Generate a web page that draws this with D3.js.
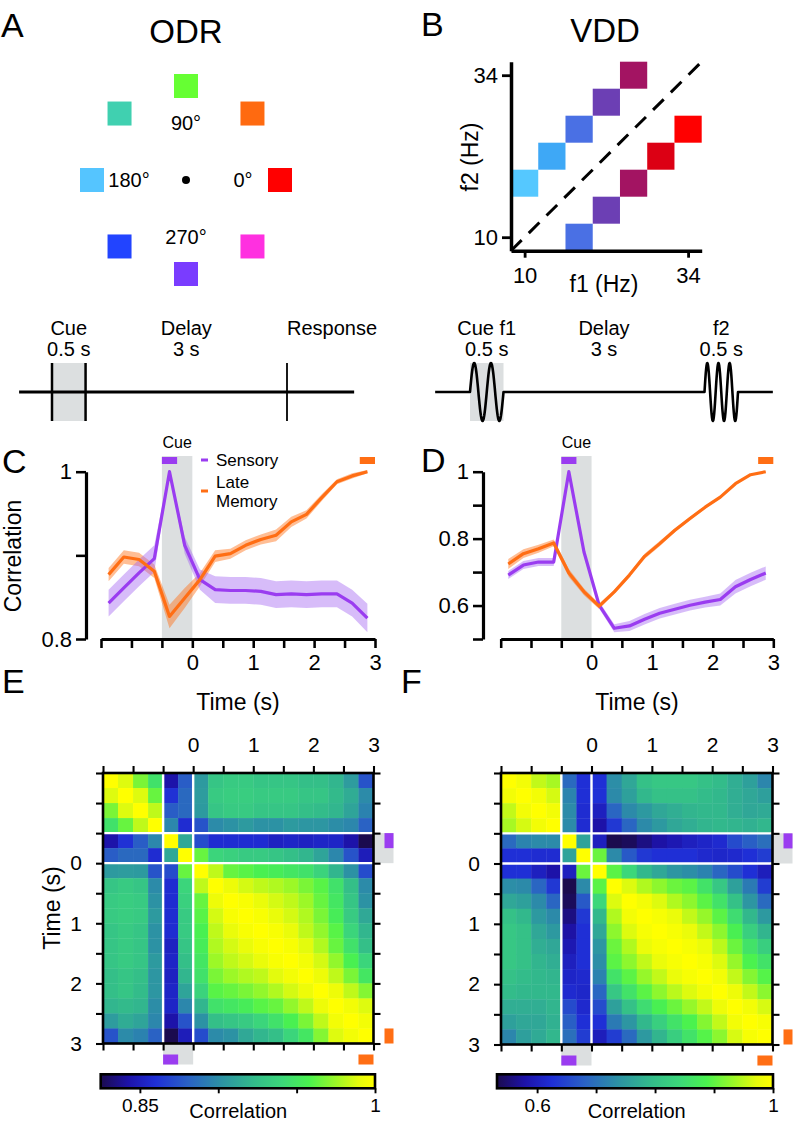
<!DOCTYPE html>
<html>
<head>
<meta charset="utf-8">
<script src="https://cdnjs.cloudflare.com/ajax/libs/d3/7.8.5/d3.min.js"></script>
<style>
  body { margin: 0; background: #fff; }
  svg text { font-family: "Liberation Sans", Arial, Helvetica, sans-serif; fill: #000; }
</style>
</head>
<body>
<div id="fig"></div>
<script>
// ---------------- data ----------------
// panel A : ODR cue locations
const odrAngles = [0, 45, 90, 135, 180, 225, 270, 315];
const odrColors = ["#ff0000", "#ff6a10", "#66ff33", "#40d0b0", "#55c5ff", "#2244ff", "#7a3cff", "#ff30e0"];
const odrLabelAngles = [0, 90, 180, 270];

// panel B : VDD stimulus pairs
const vddF1 = [10, 14, 18, 22, 26, 18, 22, 26, 30, 34];
const vddF2 = [18, 22, 26, 30, 34, 10, 14, 18, 22, 26];
const vddF1Levels = [10, 14, 18, 22, 26, 30, 34];
const vddF1Colors = ["#55c8ff", "#3ea8f6", "#4a70e4", "#6c3fb4", "#a31462", "#dc0014", "#ff0000"];

// time bins (s), bin width 0.25 s
const timeBins = [-1.375, -1.125, -0.875, -0.625, -0.375, -0.125, 0.125, 0.375, 0.625,
                  0.875, 1.125, 1.375, 1.625, 1.875, 2.125, 2.375, 2.625, 2.875];
const timeTicks = [-1.5, -1, -0.5, 0, 0.5, 1, 1.5, 2, 2.5, 3];

// panel C : ODR correlation with sensory / late memory templates
const odrSensory    = [0.843, 0.861, 0.879, 0.896, 1.000, 0.912, 0.871, 0.859, 0.858, 0.858, 0.857, 0.853, 0.854, 0.853, 0.854, 0.854, 0.843, 0.825];
const odrSensoryErr = [0.016, 0.016, 0.016, 0.016, 0.002, 0.010, 0.012, 0.016, 0.016, 0.016, 0.016, 0.016, 0.016, 0.016, 0.016, 0.016, 0.016, 0.017];
const odrMemory     = [0.877, 0.898, 0.895, 0.881, 0.827, 0.849, 0.871, 0.899, 0.902, 0.912, 0.919, 0.924, 0.940, 0.949, 0.969, 0.988, 0.995, 1.000];
const odrMemoryErr  = [0.008, 0.008, 0.008, 0.008, 0.014, 0.012, 0.008, 0.007, 0.006, 0.006, 0.006, 0.007, 0.006, 0.005, 0.004, 0.003, 0.003, 0.002];

// panel D : VDD
const vddSensory    = [0.691, 0.721, 0.730, 0.730, 1.000, 0.760, 0.601, 0.532, 0.539, 0.559, 0.577, 0.589, 0.601, 0.610, 0.618, 0.656, 0.678, 0.697];
const vddSensoryErr = [0.012, 0.012, 0.012, 0.012, 0.002, 0.008, 0.010, 0.012, 0.015, 0.016, 0.016, 0.016, 0.016, 0.016, 0.018, 0.020, 0.020, 0.020];
const vddMemory     = [0.724, 0.755, 0.770, 0.787, 0.697, 0.641, 0.598, 0.641, 0.691, 0.747, 0.785, 0.825, 0.860, 0.894, 0.924, 0.964, 0.991, 1.000];
const vddMemoryErr  = [0.015, 0.013, 0.012, 0.010, 0.012, 0.010, 0.008, 0.006, 0.006, 0.008, 0.008, 0.006, 0.005, 0.004, 0.004, 0.003, 0.002, 0.001];

// panel E : ODR cross-temporal correlation matrix
const odrMatrix = [
  [1.000, .988, .968, .947, .843, .879, .906, .929, .932, .932, .929, .929, .929, .925, .925, .920, .907, .875],
  [.988, 1.000, .988, .964, .861, .884, .907, .932, .934, .934, .932, .932, .932, .929, .929, .922, .915, .899],
  [.968, .988, 1.000, .982, .879, .884, .906, .929, .932, .932, .929, .929, .929, .925, .923, .920, .911, .895],
  [.947, .964, .982, 1.000, .897, .858, .875, .899, .902, .906, .902, .902, .906, .904, .904, .900, .897, .881],
  [.843, .861, .879, .897, 1.000, .913, .872, .858, .858, .858, .858, .852, .854, .852, .854, .854, .843, .825],
  [.879, .884, .884, .858, .913, 1.000, .964, .939, .936, .932, .932, .929, .925, .920, .911, .897, .875, .849],
  [.906, .907, .906, .875, .872, .964, 1.000, .982, .964, .961, .957, .954, .950, .947, .938, .920, .902, .872],
  [.929, .932, .929, .899, .858, .939, .982, 1.000, .993, .986, .982, .979, .975, .968, .961, .947, .925, .899],
  [.932, .934, .932, .902, .858, .936, .964, .993, 1.000, .997, .991, .986, .982, .975, .964, .950, .929, .902],
  [.932, .934, .932, .906, .858, .932, .961, .986, .997, 1.000, .997, .991, .986, .979, .968, .954, .932, .913],
  [.929, .932, .929, .902, .858, .932, .957, .982, .991, .997, 1.000, .997, .991, .982, .973, .961, .939, .920],
  [.929, .932, .929, .902, .852, .929, .954, .979, .986, .991, .997, 1.000, .997, .989, .979, .964, .947, .925],
  [.929, .932, .929, .906, .854, .925, .950, .975, .982, .986, .991, .997, 1.000, .995, .986, .973, .957, .939],
  [.925, .929, .925, .904, .852, .920, .947, .968, .975, .979, .982, .989, .995, 1.000, .993, .982, .968, .950],
  [.925, .929, .923, .904, .854, .911, .938, .961, .964, .968, .973, .979, .986, .993, 1.000, .993, .982, .970],
  [.920, .922, .920, .900, .854, .897, .920, .947, .950, .954, .961, .964, .973, .982, .993, 1.000, .995, .988],
  [.907, .915, .911, .897, .843, .875, .902, .925, .929, .932, .939, .947, .957, .968, .982, .995, 1.000, .995],
  [.875, .899, .895, .881, .825, .849, .872, .899, .902, .913, .920, .925, .939, .950, .970, .988, .995, 1.000]
];

// panel F : VDD cross-temporal correlation matrix
const vddMatrix = [
  [1.000, .986, .953, .939, .691, .626, .626, .733, .766, .803, .813, .813, .813, .803, .794, .775, .757, .724],
  [.986, 1.000, .986, .963, .721, .626, .626, .729, .757, .789, .803, .803, .803, .794, .789, .775, .766, .755],
  [.953, .986, 1.000, .986, .730, .621, .602, .686, .729, .747, .766, .775, .785, .789, .789, .775, .766, .770],
  [.939, .963, .986, 1.000, .730, .621, .579, .635, .686, .729, .747, .766, .775, .785, .789, .785, .780, .787],
  [.691, .721, .730, .730, 1.000, .760, .601, .532, .539, .559, .577, .589, .601, .610, .618, .656, .678, .697],
  [.626, .626, .621, .621, .760, 1.000, .906, .729, .672, .635, .626, .626, .626, .616, .612, .616, .626, .641],
  [.626, .626, .602, .579, .601, .906, 1.000, .897, .841, .789, .766, .743, .733, .719, .686, .658, .626, .598],
  [.733, .729, .686, .635, .532, .729, .897, 1.000, .967, .944, .925, .906, .897, .860, .813, .757, .710, .641],
  [.766, .757, .729, .686, .539, .672, .841, .967, 1.000, .986, .967, .944, .925, .897, .860, .803, .743, .691],
  [.803, .789, .747, .729, .559, .635, .789, .944, .986, 1.000, .991, .977, .953, .930, .897, .850, .789, .747],
  [.813, .803, .766, .747, .577, .626, .766, .925, .967, .991, 1.000, .991, .977, .953, .925, .883, .827, .785],
  [.813, .803, .775, .766, .589, .626, .743, .906, .944, .977, .991, 1.000, .991, .977, .949, .906, .860, .825],
  [.813, .803, .785, .775, .601, .626, .733, .897, .925, .953, .977, .991, 1.000, .991, .967, .930, .888, .860],
  [.803, .794, .789, .785, .610, .616, .719, .860, .897, .930, .953, .977, .991, 1.000, .986, .953, .920, .894],
  [.794, .789, .789, .789, .618, .612, .686, .813, .860, .897, .925, .949, .967, .986, 1.000, .981, .953, .924],
  [.775, .775, .775, .785, .656, .616, .658, .757, .803, .850, .883, .906, .930, .953, .981, 1.000, .986, .964],
  [.757, .766, .766, .780, .678, .626, .626, .710, .743, .789, .827, .860, .888, .920, .953, .986, 1.000, .991],
  [.724, .755, .770, .787, .697, .641, .598, .641, .691, .747, .785, .825, .860, .894, .924, .964, .991, 1.000]
];
const odrBarTicks = [0.85, 0.9, 0.95, 1];
const vddBarTicks = [0.6, 0.7, 0.8, 0.9, 1];

// ---------------- style ----------------
const cmapStops  = [0, 0.1, 0.2, 0.32, 0.44, 0.56, 0.66, 0.76, 0.86, 0.94, 1];
const cmapColors = ["#1b0b4e", "#1d12a8", "#1f2fd6", "#2a62c4", "#2c92a4", "#33bc8a",
                    "#3cd77a", "#4af24e", "#9ef826", "#e6fb0c", "#ffff00"];
const purple = "#9a3cf0", orange = "#ff6e14", cueGray = "#dcdfe0";
const cmap = d3.scaleLinear().domain(cmapStops).range(cmapColors).interpolate(d3.interpolateRgb);

const svg = d3.select("#fig").append("svg").attr("width", 793).attr("height", 1121);

function label(g, x, y, s, size, anchor, rot) {
    const t = g.append("text").attr("x", x).attr("y", y).attr("font-size", size)
        .attr("text-anchor", anchor || "start").text(s);
    if (rot) t.attr("transform", `rotate(${rot},${x},${y})`);
    return t;
}

function styleAxis(sel, w) {
    sel.select(".domain").attr("stroke-width", w).attr("stroke", "#000");
    sel.selectAll(".tick line").attr("stroke-width", w * 0.8).attr("stroke", "#000");
    sel.selectAll(".tick text").attr("fill", "#000");
    sel.attr("font-family", null);
}

// panel letters
[["A", 1, 37], ["B", 421, 36], ["C", 2, 473], ["D", 421, 472], ["E", 2, 693], ["F", 401, 693]]
    .forEach(([s, x, y]) => label(svg, x, y, s, 34));

// ---------------- panel A ----------------
const gA = svg.append("g");
label(gA, 186, 43, "ODR", 33, "middle");
const cA = {x: 186, y: 180}, rSq = 94, rLab = 57, sq = 24;
gA.selectAll(".odrSq").data(odrAngles).join("rect")
    .attr("x", a => cA.x + rSq * Math.cos(a * Math.PI / 180) - sq / 2)
    .attr("y", a => cA.y - rSq * Math.sin(a * Math.PI / 180) - sq / 2)
    .attr("width", sq).attr("height", sq)
    .attr("fill", (a, i) => odrColors[i]);
gA.append("circle").attr("cx", cA.x).attr("cy", cA.y).attr("r", 4);
gA.selectAll(".odrLab").data(odrLabelAngles).join("text")
    .attr("x", a => cA.x + rLab * Math.cos(a * Math.PI / 180))
    .attr("y", a => cA.y - rLab * Math.sin(a * Math.PI / 180))
    .attr("dy", "0.36em").attr("text-anchor", "middle").attr("font-size", 20)
    .text(a => a + "°");

// ---------------- panel B ----------------
const gB = svg.append("g");
label(gB, 605, 42, "VDD", 33, "middle");
const xB = d3.scaleLinear().domain([8, 36]).range([511, 701.7]);
const yB = d3.scaleLinear().domain([8, 36]).range([250.7, 61.7]);
const f1Color = d3.scaleOrdinal().domain(vddF1Levels).range(vddF1Colors);
gB.selectAll(".vddSq").data(vddF1).join("rect")
    .attr("x", d => xB(d - 2)).attr("width", xB(12) - xB(8))
    .attr("y", (d, i) => yB(vddF2[i] + 2)).attr("height", yB(8) - yB(12))
    .attr("fill", d => f1Color(d));
gB.append("line")
    .attr("x1", xB(8)).attr("y1", yB(8)).attr("x2", xB(36)).attr("y2", yB(36))
    .attr("stroke", "#000").attr("stroke-width", 3).attr("stroke-dasharray", "15,10");
const axBy = gB.append("g").attr("transform", "translate(511,0)")
    .call(d3.axisLeft(yB).tickValues([10, 34]).tickSize(9).tickSizeOuter(0).tickPadding(4))
    .attr("font-size", 22);
styleAxis(axBy, 3.5);
const axBx = gB.append("g").attr("transform", "translate(0,250.7)")
    .call(d3.axisBottom(xB).tickValues([10, 34]).tickSize(7).tickSizeOuter(0).tickPadding(10))
    .attr("font-size", 22);
styleAxis(axBx, 3.5);
label(gB, 604, 292, "f1 (Hz)", 23, "middle");
label(gB, 478, 157, "f2 (Hz)", 23, "middle", -90);

// ---------------- task timelines ----------------
function timeline(g, xStart, xEnd) {
    g.append("line").attr("x1", xStart).attr("x2", xEnd).attr("y1", 392).attr("y2", 392)
        .attr("stroke", "#000").attr("stroke-width", 3);
}
const tlA = svg.append("g");
const tA = d3.scaleLinear().domain([0, 3.5]).range([52, 287]);
tlA.append("rect").attr("x", tA(0)).attr("width", tA(0.5) - tA(0)).attr("y", 363).attr("height", 58).attr("fill", cueGray);
timeline(tlA, tA(-0.49), tA(4.5));
[[0, 2.5], [0.5, 2.5], [3.5, 1.8]].forEach(([s, w]) =>
    tlA.append("line").attr("x1", tA(s)).attr("x2", tA(s)).attr("y1", 363).attr("y2", 421)
        .attr("stroke", "#000").attr("stroke-width", w));
label(tlA, tA(0.25), 335, "Cue", 20, "middle");
label(tlA, tA(0.25), 356, "0.5 s", 20, "middle");
label(tlA, tA(2), 335, "Delay", 20, "middle");
label(tlA, tA(2), 356, "3 s", 20, "middle");
label(tlA, tA(3.5), 335, "Response", 20, "start");

const tlB = svg.append("g");
const tB = d3.scaleLinear().domain([0, 3.5]).range([470, 704.5]);
tlB.append("rect").attr("x", tB(0)).attr("width", tB(0.5) - tB(0)).attr("y", 363).attr("height", 58).attr("fill", cueGray);
// flat line with the two vibration bursts
function burst(x0, x1, cycles) {
    const n = 80;
    return d3.range(n + 1).map(k => [x0 + (x1 - x0) * k / n, 392 - 29 * Math.sin(2 * Math.PI * cycles * k / n)]);
}
const wavePts = [[tB(-0.52), 392]].concat(burst(tB(0), tB(0.5), 2), burst(tB(3.5), tB(4.0), 3), [[tB(4.52), 392]]);
tlB.append("path").attr("d", d3.line()(wavePts)).attr("fill", "none")
    .attr("stroke", "#000").attr("stroke-width", 2.6).attr("stroke-linejoin", "round");
label(tlB, tB(0.25), 335, "Cue f1", 20, "middle");
label(tlB, tB(0.25), 356, "0.5 s", 20, "middle");
label(tlB, tB(2), 335, "Delay", 20, "middle");
label(tlB, tB(2), 356, "3 s", 20, "middle");
label(tlB, tB(3.75), 335, "f2", 20, "middle");
label(tlB, tB(3.75), 356, "0.5 s", 20, "middle");

// ---------------- panels C and D ----------------
function corrPanel(cfg) {
    const g = svg.append("g");
    const x = d3.scaleLinear().domain([-1.5, 3]).range(cfg.xRange);
    const y = d3.scaleLinear().domain(cfg.yDomain).range([639, 471.7]);
    g.append("rect").attr("x", x(-0.5)).attr("width", x(0) - x(-0.5))
        .attr("y", 456).attr("height", 639 - 456).attr("fill", cueGray);
    label(g, x(-0.25), 448, "Cue", 16, "middle");
    g.append("rect").attr("x", x(-0.5)).attr("width", x(-0.25) - x(-0.5)).attr("y", 457).attr("height", 7).attr("fill", purple);
    g.append("rect").attr("x", x(2.75)).attr("width", x(3) - x(2.75)).attr("y", 457).attr("height", 7).attr("fill", orange);

    const area = (vals, err) => d3.area().x((d, i) => x(timeBins[i]))
        .y0((d, i) => y(vals[i] - err[i])).y1((d, i) => y(vals[i] + err[i]))(vals);
    const line = vals => d3.line().x((d, i) => x(timeBins[i])).y(d => y(d))(vals);
    g.append("path").attr("d", area(cfg.memory, cfg.memoryErr)).attr("fill", orange).attr("opacity", 0.45);
    g.append("path").attr("d", area(cfg.sensory, cfg.sensoryErr)).attr("fill", "#a060f0").attr("opacity", 0.42);
    g.append("path").attr("d", line(cfg.sensory)).attr("fill", "none").attr("stroke", purple)
        .attr("stroke-width", 3.2).attr("stroke-linejoin", "round");
    g.append("path").attr("d", line(cfg.memory)).attr("fill", "none").attr("stroke", orange)
        .attr("stroke-width", 3.2).attr("stroke-linejoin", "round");

    const ay = g.append("g").attr("transform", `translate(${cfg.yAxisX},0)`)
        .call(d3.axisLeft(y).tickValues(cfg.yTicks).tickSize(10).tickSizeOuter(0).tickPadding(4)
            .tickFormat(d => cfg.yLabels.includes(d) ? String(d) : ""))
        .attr("font-size", 22);
    styleAxis(ay, 3.2);
    const ax = g.append("g").attr("transform", "translate(0,639)")
        .call(d3.axisBottom(x).tickValues(timeTicks).tickSize(9).tickSizeOuter(0).tickPadding(6)
            .tickFormat(d => (d >= 0 && Number.isInteger(d)) ? d : ""))
        .attr("font-size", 22);
    styleAxis(ax, 3.2);
    // axis title centred under the whole time axis
    label(g, (cfg.xRange[0] + cfg.xRange[1]) / 2, 710, "Time (s)", 23, "middle");
    return {g, x, y};
}

const pC = corrPanel({
    xRange: [101, 375], yDomain: [0.8, 1], yAxisX: 86,
    yTicks: [0.8, 0.9, 1], yLabels: [0.8, 1],
    sensory: odrSensory, sensoryErr: odrSensoryErr, memory: odrMemory, memoryErr: odrMemoryErr
});
label(pC.g, 21, 556, "Correlation", 23, "middle", -90);
// legend
pC.g.append("line").attr("x1", 201).attr("x2", 208).attr("y1", 460).attr("y2", 460).attr("stroke", purple).attr("stroke-width", 3);
pC.g.append("line").attr("x1", 201).attr("x2", 208).attr("y1", 491).attr("y2", 491).attr("stroke", orange).attr("stroke-width", 3);
label(pC.g, 216, 466, "Sensory", 17);
label(pC.g, 216, 488, "Late", 17);
label(pC.g, 216, 507, "Memory", 17);

corrPanel({
    xRange: [500.7, 773.3], yDomain: [0.5, 1], yAxisX: 483,
    yTicks: [0.5, 0.6, 0.7, 0.8, 0.9, 1], yLabels: [0.6, 0.8, 1],
    sensory: vddSensory, sensoryErr: vddSensoryErr, memory: vddMemory, memoryErr: vddMemoryErr
});

// ---------------- panels E and F ----------------
let gradId = 0;
function heatPanel(cfg) {
    const g = svg.append("g");
    const m = cfg.matrix;
    const ext = d3.extent(m.flat());
    const col = v => cmap((v - ext[0]) / (ext[1] - ext[0]));
    const x = d3.scaleLinear().domain([-1.5, 3]).range([cfg.x0, cfg.x0 + cfg.size]);
    const y = d3.scaleLinear().domain([-1.5, 3]).range([773, 773 + cfg.size]);
    const cw = x(0.25) - x(0);
    const x1 = cfg.x0 + cfg.size, y1 = 773 + cfg.size;

    // cue / template markers
    g.append("rect").attr("x", x1).attr("width", 20).attr("y", y(-0.5)).attr("height", y(0) - y(-0.5)).attr("fill", cueGray);
    g.append("rect").attr("x", x1 + 11).attr("width", 9).attr("y", y(-0.5)).attr("height", cw).attr("fill", purple);
    g.append("rect").attr("x", x1 + 11).attr("width", 9).attr("y", y(2.75)).attr("height", cw).attr("fill", orange);
    g.append("rect").attr("x", x(-0.5)).attr("width", x(0) - x(-0.5)).attr("y", y1).attr("height", 21).attr("fill", cueGray);
    g.append("rect").attr("x", x(-0.5)).attr("width", cw).attr("y", y1 + 11).attr("height", 10).attr("fill", purple);
    g.append("rect").attr("x", x(2.75)).attr("width", cw).attr("y", y1 + 11).attr("height", 10).attr("fill", orange);

    const cells = [];
    m.forEach((row, i) => row.forEach((v, j) => cells.push({i, j, v})));
    g.selectAll(".cell").data(cells).join("rect")
        .attr("x", d => x(timeBins[d.j] - 0.125)).attr("y", d => y(timeBins[d.i] - 0.125))
        .attr("width", cw + 0.4).attr("height", cw + 0.4)
        .attr("fill", d => col(d.v));
    [-0.5, 0].forEach(t => {
        g.append("line").attr("x1", x(t)).attr("x2", x(t)).attr("y1", 773).attr("y2", y1)
            .attr("stroke", "#fff").attr("stroke-width", 2.4);
        g.append("line").attr("y1", y(t)).attr("y2", y(t)).attr("x1", cfg.x0).attr("x2", x1)
            .attr("stroke", "#fff").attr("stroke-width", 2.4);
    });
    g.append("rect").attr("x", cfg.x0).attr("y", 773).attr("width", cfg.size).attr("height", cfg.size)
        .attr("fill", "none").attr("stroke", "#000").attr("stroke-width", 2.6);

    const fmt = d => (d >= 0 && Number.isInteger(d)) ? d : "";
    const axes = [
        [d3.axisTop(x), `translate(0,773)`, fmt],
        [d3.axisBottom(x), `translate(0,${y1})`, () => ""],
        [d3.axisLeft(y), `translate(${cfg.x0},0)`, fmt],
        [d3.axisRight(y), `translate(${x1},0)`, () => ""]
    ];
    axes.forEach(([a, tr, f]) => {
        const s = g.append("g").attr("transform", tr)
            .call(a.tickValues(timeTicks).tickSize(7).tickSizeOuter(0).tickPadding(14).tickFormat(f))
            .attr("font-size", 21);
        s.select(".domain").remove();
        styleAxis(s, 2.6);
    });

    // colour bar
    const id = "grad" + (gradId++);
    const grad = svg.append("defs").append("linearGradient").attr("id", id);
    cmapStops.forEach((s, k) => grad.append("stop").attr("offset", s).attr("stop-color", cmapColors[k]));
    const cb = d3.scaleLinear().domain(ext).range(cfg.barRange);
    g.append("rect").attr("x", cfg.barRange[0]).attr("y", 1074.3)
        .attr("width", cfg.barRange[1] - cfg.barRange[0]).attr("height", 14)
        .attr("fill", `url(#${id})`).attr("stroke", "#000").attr("stroke-width", 2.6);
    const ab = g.append("g").attr("transform", "translate(0,1088.3)")
        .call(d3.axisBottom(cb).tickValues(cfg.barTicks).tickSize(5).tickSizeOuter(0).tickPadding(5)
            .tickFormat(d => (d === cfg.barTicks[0] || d === 1) ? String(d) : ""))
        .attr("font-size", 19);
    ab.select(".domain").remove();
    styleAxis(ab, 2.4);
    label(g, x(0.75), 1118, "Correlation", 20, "middle");
    return {g, x, y};
}

const pE = heatPanel({matrix: odrMatrix, x0: 103, size: 270.5, barRange: [100.7, 375], barTicks: odrBarTicks});
label(pE.g, 60, 908, "Time (s)", 23, "middle", -90);
heatPanel({matrix: vddMatrix, x0: 501, size: 271.5, barRange: [497, 773], barTicks: vddBarTicks});
</script>
</body>
</html>
